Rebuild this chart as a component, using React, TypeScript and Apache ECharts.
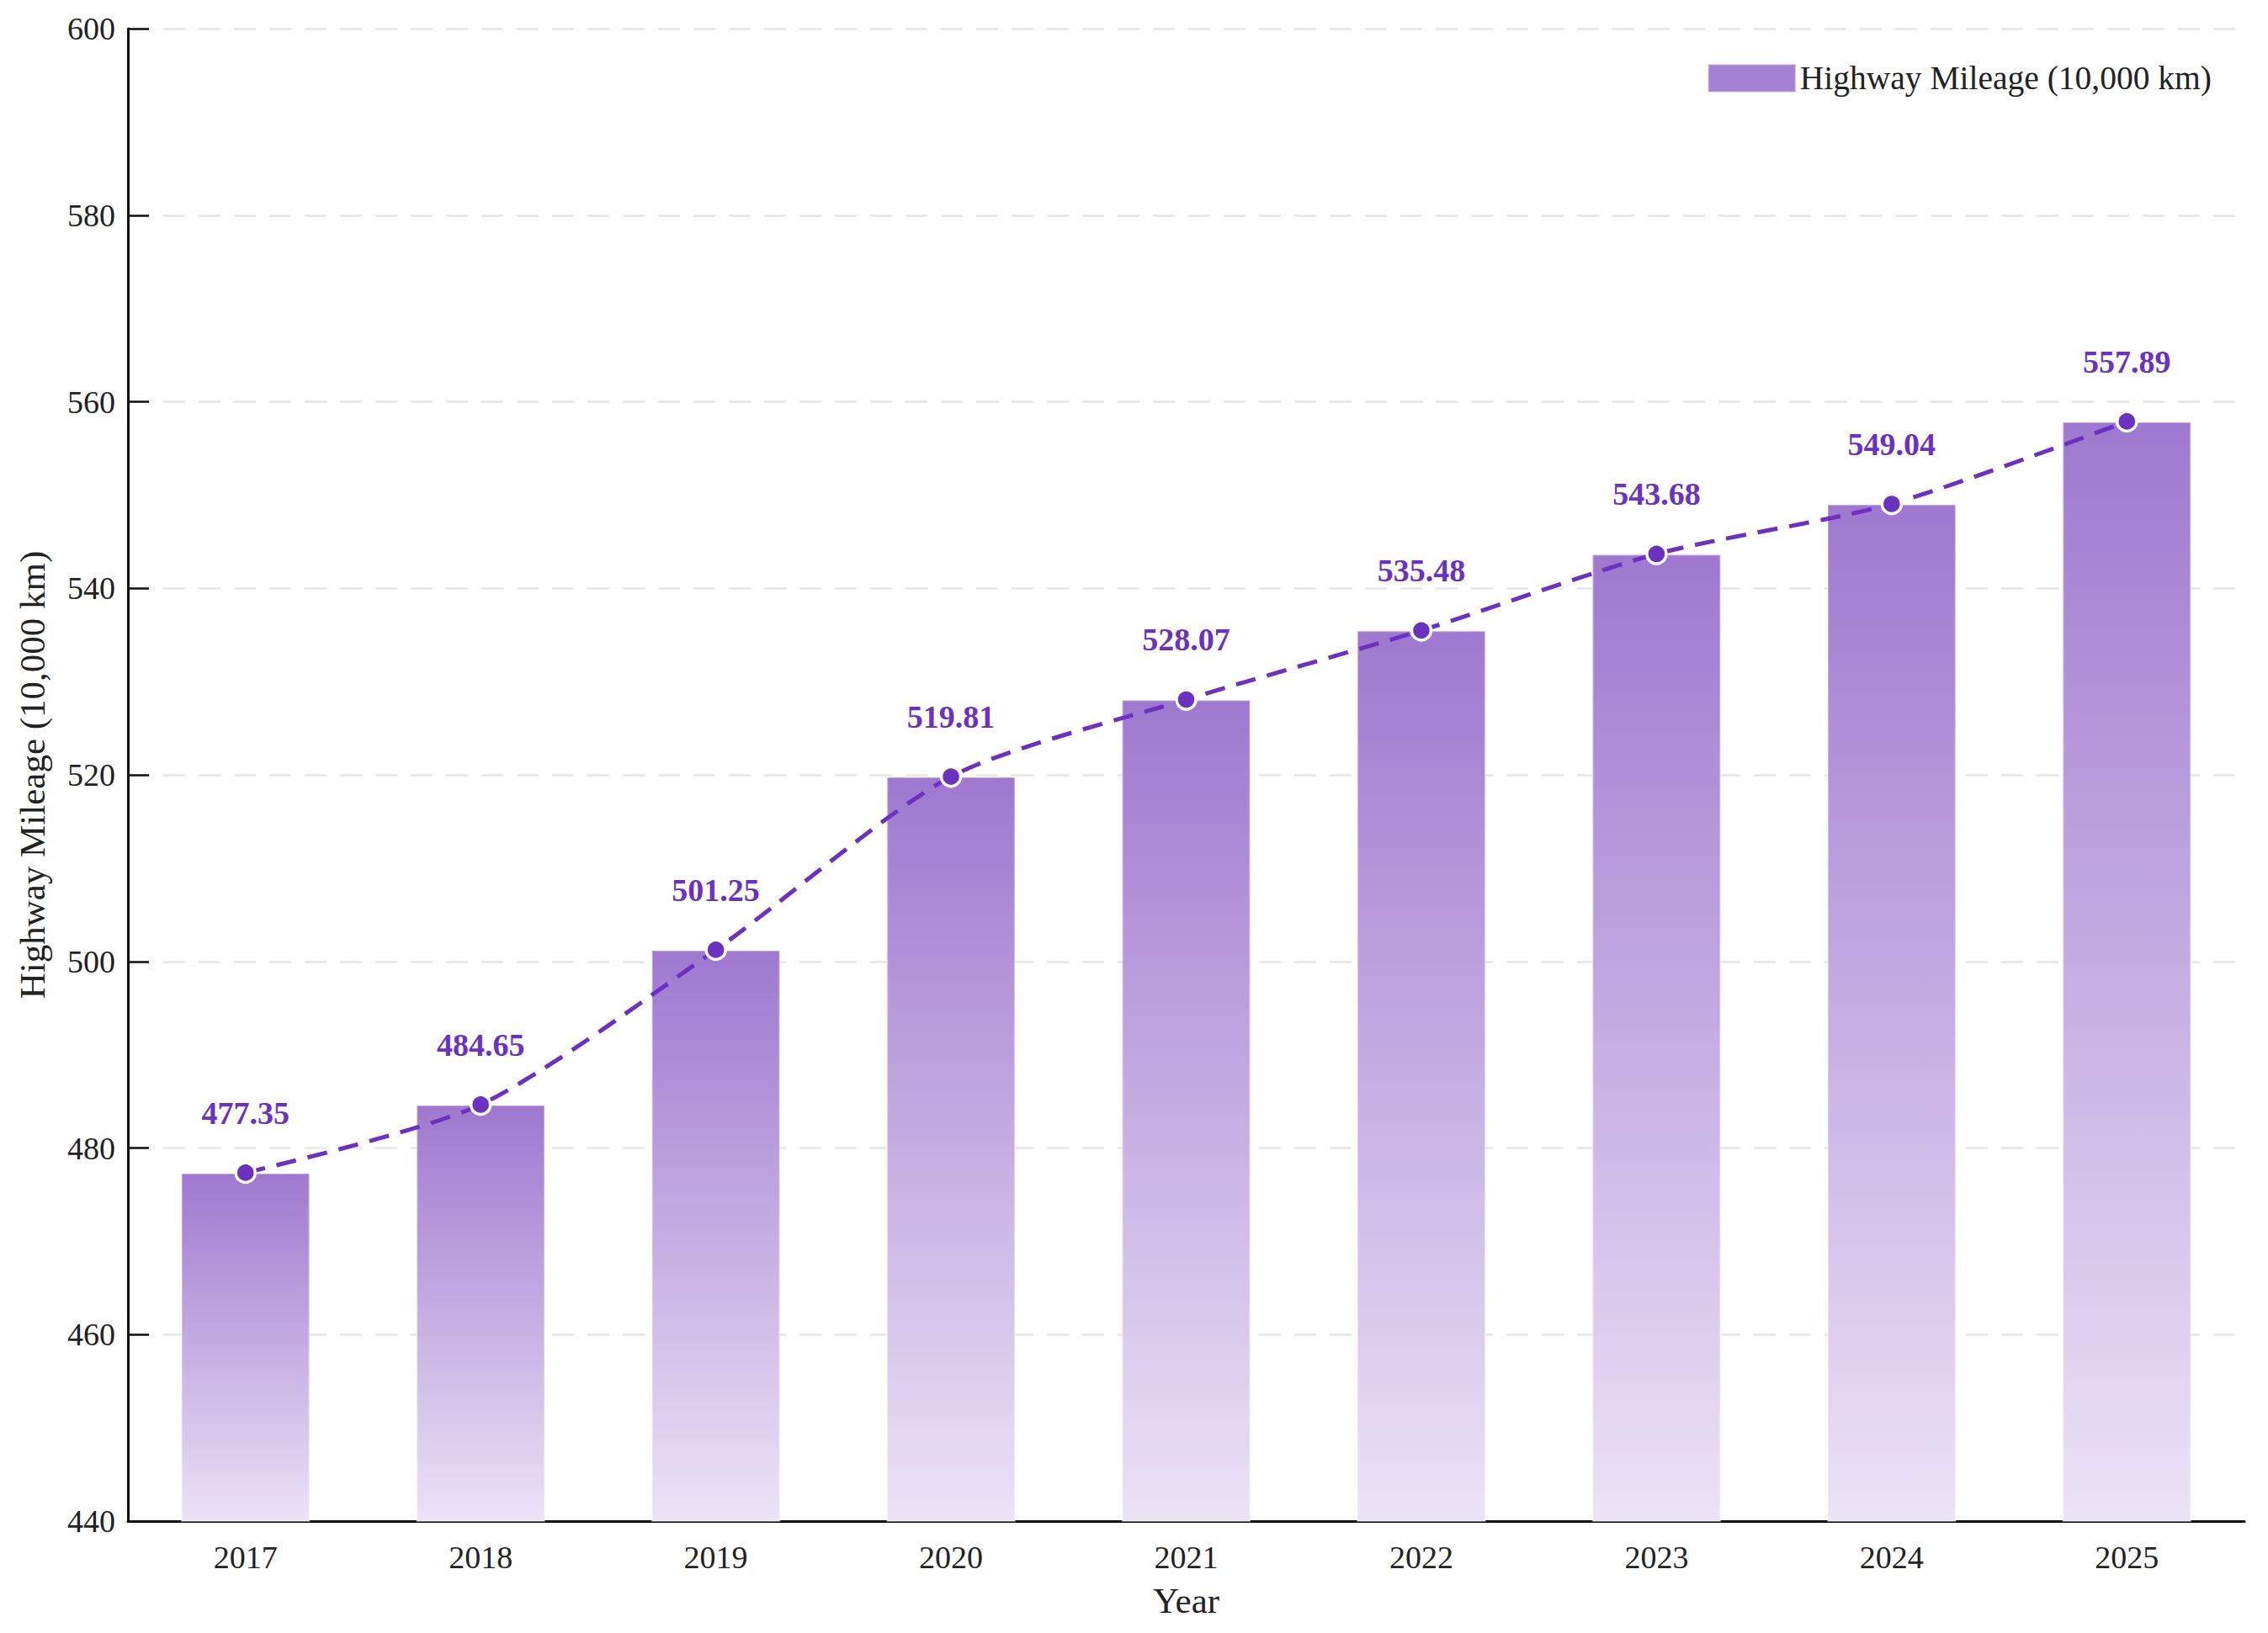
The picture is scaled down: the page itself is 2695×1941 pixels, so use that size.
import React, { useEffect, useRef } from "react";
import * as echarts from "echarts";

const years = ["2017", "2018", "2019", "2020", "2021", "2022", "2023", "2024", "2025"];
const mileage = [477.35, 484.65, 501.25, 519.81, 528.07, 535.48, 543.68, 549.04, 557.89];
const seriesName = "Highway Mileage (10,000 km)";
const yMin = 440;
const yMax = 600;
const yStep = 20;

const FONT = "'Liberation Serif', 'Times New Roman', serif";
const PURPLE = "#6b32c0";

export default function App() {
  const ref = useRef<HTMLDivElement>(null);
  useEffect(() => {
    if (!ref.current) return;
    const chart = echarts.init(ref.current, null, { renderer: "svg" });
    chart.setOption({
      animation: false,
      backgroundColor: "#ffffff",
      textStyle: { fontFamily: FONT },
      grid: { left: 152, right: 28, top: 34, bottom: 133, containLabel: false },
      legend: {
        data: [{ name: seriesName, icon: "rect", itemStyle: { color: "#a581d4" } }],
        right: 62,
        top: 68,
        itemWidth: 104,
        itemHeight: 33,
        itemGap: 10,
        textStyle: { fontFamily: FONT, fontSize: 39.5, color: "#222" },
      },
      xAxis: {
        type: "category",
        data: years,
        boundaryGap: true,
        name: "Year",
        nameLocation: "middle",
        nameGap: 73,
        nameTextStyle: { fontFamily: FONT, fontSize: 43, color: "#222" },
        axisLine: { lineStyle: { color: "#111", width: 3 } },
        axisTick: { inside: true, alignWithLabel: true, length: 26, lineStyle: { color: "#111", width: 2.5 } },
        axisLabel: { fontFamily: FONT, fontSize: 38, color: "#222", margin: 24 },
      },
      yAxis: {
        type: "value",
        min: yMin,
        max: yMax,
        interval: yStep,
        name: seriesName,
        nameLocation: "middle",
        nameGap: 92,
        nameTextStyle: { fontFamily: FONT, fontSize: 43, color: "#222" },
        axisLine: { show: true, lineStyle: { color: "#111", width: 3 } },
        axisTick: { show: true, inside: true, length: 25, lineStyle: { color: "#111", width: 2.5 } },
        axisLabel: { fontFamily: FONT, fontSize: 38, color: "#222", margin: 15 },
        splitLine: { show: true, lineStyle: { color: "#e6e6e6", width: 2.5, type: [26, 16] } },
      },
      series: [
        {
          name: seriesName,
          type: "bar",
          data: mileage,
          barWidth: "55%",
          itemStyle: {
            color: new echarts.graphic.LinearGradient(0, 0, 0, 1, [
              { offset: 0, color: "#9f78cf" },
              { offset: 1, color: "#ebe3f6" },
            ]),
            borderColor: "rgba(255,255,255,0.35)",
            borderWidth: 2,
          },
          z: 2,
        },
        {
          name: "trend",
          type: "line",
          data: mileage,
          smooth: 0.25,
          symbol: "circle",
          symbolSize: 23,
          lineStyle: { color: PURPLE, width: 5, type: [24, 14] },
          itemStyle: { color: PURPLE, borderColor: "#ffffff", borderWidth: 3.5 },
          label: {
            show: true,
            position: "top",
            distance: 39,
            fontFamily: FONT,
            fontSize: 38,
            fontWeight: "bold",
            color: PURPLE,
            formatter: (p: any) => Number(p.value).toFixed(2),
          },
          z: 5,
        },
      ],
    });
    return () => chart.dispose();
  }, []);
  return (
    <div
      ref={ref}
      style={{ position: "fixed", left: 0, top: 0, width: 2695, height: 1941, background: "#fff" }}
    />
  );
}
